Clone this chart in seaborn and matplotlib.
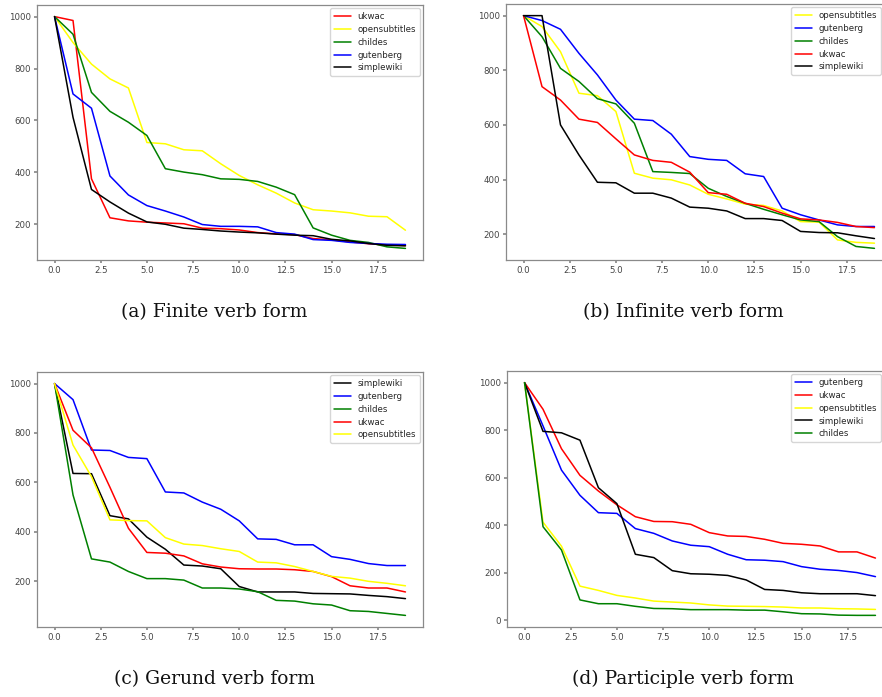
import pandas as pd
import matplotlib
matplotlib.use('Agg')
import matplotlib.pyplot as plt
import seaborn as sns

# ============================================================
# DATA (top-20 ranks per corpus)
# ============================================================
RANKS = list(range(20))

FINITE = {
    'ukwac':         [1000, 985, 375, 225, 213, 208, 205, 202, 185, 183,
                      178, 168, 163, 160, 145, 140, 132, 125, 120, 118],
    'opensubtitles': [1000, 900, 817, 760, 725, 515, 510, 487, 483, 433,
                      388, 352, 320, 282, 256, 251, 244, 231, 229, 177],
    'childes':       [1000, 932, 708, 635, 593, 542, 414, 401, 391, 375,
                      373, 365, 343, 314, 186, 158, 138, 130, 113, 107],
    'gutenberg':     [1000, 702, 647, 386, 313, 272, 251, 228, 199, 192,
                      192, 190, 168, 162, 141, 138, 130, 126, 123, 122],
    'simplewiki':    [1000, 612, 334, 286, 243, 209, 200, 185, 180, 174,
                      170, 167, 162, 158, 156, 142, 136, 126, 119, 117],
}

INFINITE = {
    'opensubtitles': [1000, 960, 868, 716, 707, 649, 423, 405, 399, 380,
                      346, 329, 310, 305, 285, 246, 244, 179, 170, 167],
    'gutenberg':     [1000, 982, 950, 862, 783, 691, 621, 616, 566, 484,
                      474, 470, 421, 411, 295, 271, 252, 234, 228, 228],
    'childes':       [1000, 923, 807, 759, 696, 677, 606, 429, 426, 422,
                      368, 338, 313, 291, 271, 252, 246, 191, 155, 148],
    'ukwac':         [1000, 740, 691, 621, 609, 549, 490, 470, 463, 427,
                      352, 346, 313, 301, 277, 256, 252, 243, 228, 224],
    'simplewiki':    [1000, 1000, 600, 490, 390, 388, 350, 350, 332, 299,
                      295, 285, 257, 257, 250, 210, 206, 205, 194, 184],
}

GERUND = {
    'simplewiki':    [1000, 636, 635, 465, 452, 378, 329, 265, 261, 250,
                      178, 156, 156, 156, 150, 149, 148, 142, 137, 129],
    'gutenberg':     [1000, 935, 731, 729, 701, 696, 561, 557, 520, 491,
                      444, 371, 369, 347, 347, 299, 288, 271, 263, 263],
    'childes':       [1000, 549, 290, 277, 239, 210, 210, 204, 172, 172,
                      168, 157, 122, 119, 108, 103, 80, 77, 69, 61],
    'ukwac':         [1000, 811, 740, 580, 414, 316, 313, 302, 270, 257,
                      250, 249, 249, 246, 239, 218, 181, 172, 172, 156],
    'opensubtitles': [1000, 751, 623, 448, 445, 444, 376, 350, 344, 331,
                      320, 277, 274, 259, 239, 219, 212, 199, 191, 181],
}

PARTICIPLE = {
    'gutenberg':     [1000, 818, 632, 526, 453, 450, 386, 366, 334, 316,
                      310, 278, 255, 253, 247, 226, 215, 210, 201, 184],
    'ukwac':         [1000, 888, 722, 610, 544, 486, 436, 416, 415, 404,
                      369, 355, 353, 341, 324, 320, 313, 288, 288, 262],
    'opensubtitles': [1000, 413, 312, 144, 126, 105, 94, 81, 77, 73,
                      65, 60, 59, 58, 56, 52, 52, 49, 48, 46],
    'simplewiki':    [1000, 795, 789, 758, 558, 491, 278, 264, 209, 196,
                      194, 189, 170, 130, 126, 116, 112, 112, 112, 104],
    'childes':       [1000, 394, 296, 86, 70, 70, 59, 50, 49, 45,
                      45, 45, 43, 43, 36, 28, 27, 22, 21, 21],
}

CAPTIONS = ['(a) Finite verb form', '(b) Infinite verb form',
            '(c) Gerund verb form', '(d) Participle verb form']

COLORS = {'ukwac': 'red', 'opensubtitles': 'yellow', 'childes': 'green',
          'gutenberg': 'blue', 'simplewiki': 'black'}

# ============================================================
# STYLE
# ============================================================
sns.set_theme(style='ticks')
plt.rcParams.update({
    'font.family':      ['DejaVu Sans'],
    'axes.edgecolor':   '#8a8a8a',
    'axes.linewidth':   0.9,
    'xtick.color':      '#8a8a8a',
    'ytick.color':      '#8a8a8a',
    'xtick.labelcolor': '#444444',
    'ytick.labelcolor': '#444444',
    'xtick.labelsize':  6.2,
    'ytick.labelsize':  6.2,
    'xtick.major.size': 2.5,
    'ytick.major.size': 2.5,
})

W, H = 882, 697
fig = plt.figure(figsize=(W / 100, H / 100), dpi=100)

# axes boxes in pixels: left, top, right, bottom (right column runs off the page)
boxes = [(37, 5, 423, 260), (506, 4, 892, 260),
         (37, 372, 423, 627), (507, 371, 893, 627)]
cap_pos = [(214, 312), (683, 312), (215, 679), (683, 679)]

panels = [FINITE, INFINITE, GERUND, PARTICIPLE]

for data, box, cap, (cx, cy) in zip(panels, boxes, CAPTIONS, cap_pos):
    l, t, r, b = box
    ax = fig.add_axes([l / W, 1 - b / H, (r - l) / W, (b - t) / H])

    df = pd.DataFrame(data)
    df['rank'] = RANKS
    long = df.melt(id_vars='rank', var_name='corpus', value_name='count')
    order = list(data.keys())

    sns.lineplot(data=long, x='rank', y='count', hue='corpus',
                 hue_order=order, palette=COLORS, linewidth=1.1, ax=ax)
    ax.set_xlabel('')
    ax.set_ylabel('')
    ax.tick_params(pad=2)

    # keep the legend inside the page for the clipped right column
    anchor_x = (min(r, 884) - l) / (r - l)
    sns.move_legend(ax, 'upper right', bbox_to_anchor=(anchor_x, 1.0),
                    title=None, fontsize=6.2, frameon=True,
                    handlelength=2.0, borderaxespad=0.4, labelspacing=0.45)

    fig.text(cx / W, 1 - cy / H, cap, ha='center', va='center',
             fontsize=13.5, family=['DejaVu Serif'], color='#111111')

fig.savefig('out.png', dpi=100)
